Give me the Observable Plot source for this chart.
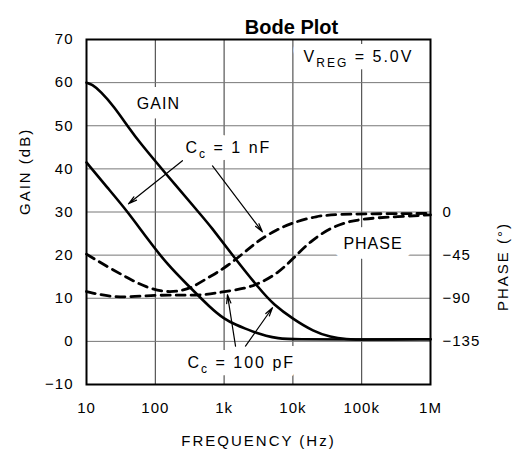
<!DOCTYPE html>
<html>
<head>
<meta charset="utf-8">
<script src="https://cdn.jsdelivr.net/npm/d3@7"></script>
<script src="https://cdn.jsdelivr.net/npm/@observablehq/plot@0.6"></script>
<style>
  html, body { margin: 0; padding: 0; background: #fff; }
  #chart svg { display: block; }
  #chart svg text { letter-spacing: 1px; }
</style>
</head>
<body>
<div id="chart"></div>
<script>
// ---- data ----
const xTicks = [10, 100, 1e3, 1e4, 1e5, 1e6];
const xTickLabels = ["10", "100", "1k", "10k", "100k", "1M"];
const gainTicks = [-10, 0, 10, 20, 30, 40, 50, 60, 70];
const phaseTicks = [0, -45, -90, -135];

// [frequency Hz, gain dB]
const gain100pF = [[10,60],[12,59.6],[16,58],[25,54.5],[40,49.8],[60,46],[140,39],[450,29.5],[630,26.8],[1350,19.8],[3400,11.8],[5200,8.6],[10000,5.2],[20000,2.3],[35000,1],[60000,0.5],[100000,0.4],[1e6,0.5]];
const gain1nF = [[10,41.5],[20,35.7],[40,30],[75,24],[150,17.8],[290,13.2],[630,7.8],[1000,5.2],[1500,3.8],[2000,3],[3000,1.9],[4000,1.3],[6000,0.7],[10000,0.45],[100000,0.4],[1e6,0.5]];
// [frequency Hz, phase degrees]
const phase1nF = [[10,-44],[20,-57],[40,-69],[75,-79],[145,-84],[250,-82],[360,-78],[600,-68],[1000,-59],[2000,-42],[3000,-31],[5000,-21],[9000,-12],[22000,-4],[50000,-2],[1e6,-1.5]];
const phase100pF = [[10,-83],[20,-88],[40,-89],[100,-86.5],[250,-87],[550,-86.5],[1000,-83],[2000,-80],[3400,-74],[6000,-64],[10000,-49],[18000,-30],[42000,-13],[100000,-7],[300000,-5],[1e6,-3]];

// annotations in data units (frequency, gain dB)
const labelsMiddle = [
  {f: 111, g: 55.1, text: "GAIN"},
  {f: 146000, g: 22.5, text: "PHASE"}
];
const labelsStart = [
  {f: 275, g: 44.9, text: "C{c} = 1 nF"},
  {f: 294, g: -5.0, text: "C{c} = 100 pF"},
  {f: 14300, g: 66, text: "V{REG} = 5.0V"}
];
const arrows = [
  {f1: 248, g1: 41.9, f2: 40.8, g2: 31.9},
  {f1: 678, g1: 40.7, f2: 3600, g2: 25.4},
  {f1: 1466, g1: -1.1, f2: 1119, g2: 10.8},
  {f1: 2046, g1: -1.1, f2: 5050, g2: 7.8}
];

// phase axis: 0° sits on 30 dB, 45° per 10 dB
const phaseToGain = p => p / 4.5 + 30;

const font = "'Liberation Sans', Arial, sans-serif";
const halo = {fill: "white", stroke: "white", strokeWidth: 20, strokeLinejoin: "round", fontSize: 16};

const plot = Plot.plot({
  width: 515,
  height: 457,
  marginLeft: 86,
  marginRight: 85,
  marginTop: 39,
  marginBottom: 73,
  style: {fontFamily: font, fontSize: "15px", color: "#000", background: "#fff"},
  x: {type: "log", domain: [10, 1e6]},
  y: {domain: [-10, 70]},
  marks: [
    Plot.gridX(xTicks, {stroke: "#333", strokeOpacity: 1, strokeWidth: 1}),
    Plot.gridY(gainTicks, {stroke: "#777", strokeOpacity: 1, strokeWidth: 1}),
    // white boxes behind labels
    Plot.text(labelsMiddle, {x: "f", y: "g", text: "text", textAnchor: "middle", ...halo}),
    Plot.text(labelsStart, {x: "f", y: "g", text: "text", textAnchor: "start", ...halo}),
    Plot.line(gain100pF, {x: d => d[0], y: d => d[1], stroke: "black", strokeWidth: 2.6, curve: "basis"}),
    Plot.line(gain1nF, {x: d => d[0], y: d => d[1], stroke: "black", strokeWidth: 2.6, curve: "basis"}),
    Plot.line(phase1nF, {x: d => d[0], y: d => phaseToGain(d[1]), stroke: "black", strokeWidth: 2.8, strokeDasharray: "9,6", curve: "basis"}),
    Plot.line(phase100pF, {x: d => d[0], y: d => phaseToGain(d[1]), stroke: "black", strokeWidth: 2.8, strokeDasharray: "9,6", curve: "basis"}),
    Plot.arrow(arrows, {x1: "f1", y1: "g1", x2: "f2", y2: "g2", stroke: "black", strokeWidth: 1.2, headLength: 11, headAngle: 28}),
    Plot.frame({stroke: "black", strokeWidth: 2}),
    Plot.text(labelsMiddle, {x: "f", y: "g", text: "text", textAnchor: "middle", fontSize: 16, fill: "black"}),
    Plot.text(labelsStart, {x: "f", y: "g", text: "text", textAnchor: "start", fontSize: 16, fill: "black"}),
    Plot.axisX(xTicks, {tickSize: 0, tickPadding: 18, tickFormat: d => xTickLabels[xTicks.indexOf(d)], fontSize: 15, label: null}),
    Plot.axisY(gainTicks, {anchor: "left", tickSize: 0, tickPadding: 13, fontSize: 15, label: null}),
    Plot.axisY(phaseTicks.map(phaseToGain), {anchor: "right", tickSize: 0, tickPadding: 12, fontSize: 15, label: null,
      tickFormat: d => String(phaseTicks[phaseTicks.map(phaseToGain).indexOf(d)]).replace("-", "\u2212")}),
    Plot.text(["FREQUENCY (Hz)"], {frameAnchor: "bottom", dy: 61, fontSize: 15, fill: "black"}),
    Plot.text(["GAIN (dB)"], {frameAnchor: "left", dx: -61, dy: 3, rotate: -90, fontSize: 15, fill: "black"}),
    Plot.text(["PHASE (\u00b0)"], {frameAnchor: "right", dx: 73, dy: 10, rotate: -90, fontSize: 15, fill: "black"}),
    Plot.text(["Bode Plot"], {frameAnchor: "top", dx: 33, dy: -20, fontSize: 20, fontWeight: "bold", fill: "black"})
  ]
});

document.getElementById("chart").appendChild(plot);

// subscripts and letter-spacing tweaks
const svg = d3.select(plot);
svg.selectAll("text").each(function () {
  const el = d3.select(this);
  const t = this.textContent;
  if (t === "Bode Plot") { el.style("letter-spacing", "0px"); return; }
  if (t === "FREQUENCY (Hz)" || t === "GAIN (dB)" || t === "PHASE (\u00b0)") { el.style("letter-spacing", "2px"); return; }
  if (/\{[^}]*\}/.test(t)) {
    el.style("letter-spacing", "2px");
    el.text(null);
    const parts = t.split(/(\{[^}]*\})/).filter(s => s.length);
    let shifted = false;
    parts.forEach(p => {
      if (p.startsWith("{")) {
        el.append("tspan").attr("dy", "5").attr("font-size", "12").text(p.slice(1, -1));
        shifted = true;
      } else {
        const ts = el.append("tspan").text(p.replace(/ /g, "\u00a0"));
        if (shifted) { ts.attr("dy", "-5"); shifted = false; }
      }
    });
  }
});
</script>
</body>
</html>
